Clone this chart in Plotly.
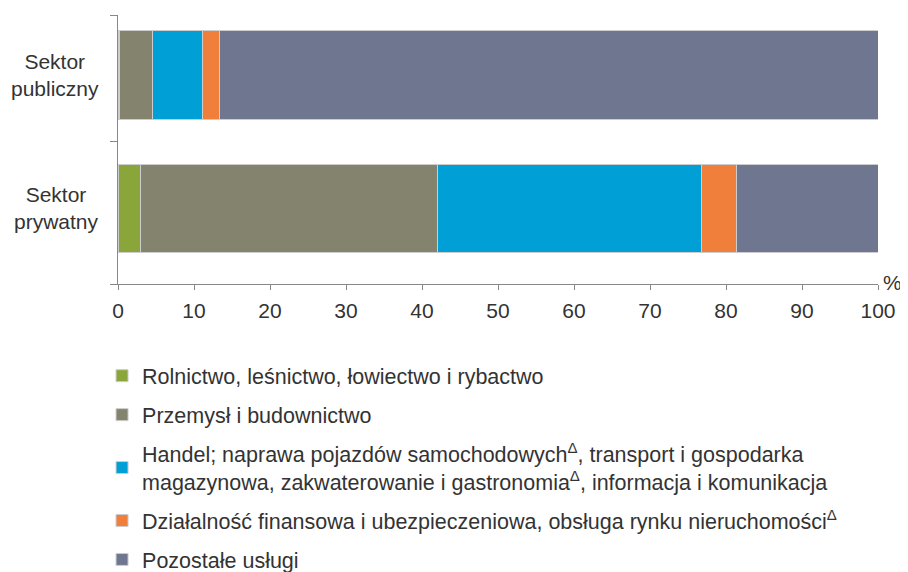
import plotly.graph_objects as go

sectors = ["Sektor<br>prywatny", "Sektor<br>publiczny"]
sector_pos = [0, 1]

series_names = [
    "Rolnictwo, leśnictwo, łowiectwo i rybactwo",
    "Przemysł i budownictwo",
    "Handel; naprawa pojazdów samochodowych<sup>Δ</sup>, transport i gospodarka<br>magazynowa, zakwaterowanie i gastronomia<sup>Δ</sup>, informacja i komunikacja",
    "Działalność finansowa i ubezpieczeniowa, obsługa rynku nieruchomości<sup>Δ</sup>",
    "Pozostałe usługi",
]
# values: [prywatny, publiczny]
rolnictwo = [2.9, 0.2]
przemysl = [39.2, 4.4]
handel = [34.7, 6.5]
finanse = [4.6, 2.2]
pozostale = [18.6, 86.7]
series_values = [rolnictwo, przemysl, handel, finanse, pozostale]
colors = ["#8aa63a", "#83836e", "#009fd6", "#f07f3c", "#6f7790"]

x_ticks = [0, 10, 20, 30, 40, 50, 60, 70, 80, 90, 100]

FONT = "Liberation Sans, Arial, sans-serif"
TXT = "#333333"

fig = go.Figure()
for i, (name, vals, col) in enumerate(zip(series_names, series_values, colors)):
    fig.add_trace(go.Bar(
        y=sector_pos, x=vals, name=name, orientation="h",
        marker=dict(color=col, line=dict(color="rgba(205,205,205,1)", width=1)),
        width=0.66, legendgroup=f"g{i}",
    ))

fig.update_layout(
    barmode="stack",
    width=908, height=572,
    margin=dict(l=109.5, r=38, t=7, b=296),
    plot_bgcolor="white", paper_bgcolor="white",
    font=dict(family=FONT, size=20, color=TXT),
    showlegend=True,
    legend=dict(
        x=-0.021, xanchor="left", y=0.393, yanchor="top", yref="container",
        traceorder="grouped", tracegroupgap=8,
        font=dict(family=FONT, size=21.5, color=TXT),
        itemwidth=30, bgcolor="rgba(0,0,0,0)",
    ),
)
fig.update_xaxes(
    range=[0, 100], tickvals=x_ticks, ticks="outside", ticklen=5,
    tickcolor="#888888", showline=True, linecolor="#888888", linewidth=1,
    showgrid=False, zeroline=False, tickfont=dict(size=21, color=TXT),
    ticklabelstandoff=3,
)
fig.update_yaxes(
    range=[-0.566, 1.449], tickvals=sector_pos, ticktext=["", ""], ticks="",
    showline=True, linecolor="#888888", linewidth=1, showgrid=False, zeroline=False,
    minor=dict(tickvals=[-0.566, 0.5, 1.449], ticks="outside", ticklen=7, tickcolor="#888888"),
)
for pos, lab in zip(sector_pos, sectors):
    fig.add_annotation(
        x=-0.022, xref="paper", y=pos, yref="y", text=lab, showarrow=False,
        xanchor="right", yanchor="middle", align="center",
        font=dict(family=FONT, size=21, color=TXT),
    )
fig.add_annotation(
    x=1.0, xref="paper", y=0.0, yref="paper", text="%", showarrow=False,
    xanchor="left", yanchor="middle", xshift=3, yshift=2,
    font=dict(family=FONT, size=21, color=TXT),
)

fig.write_html("out.html")
